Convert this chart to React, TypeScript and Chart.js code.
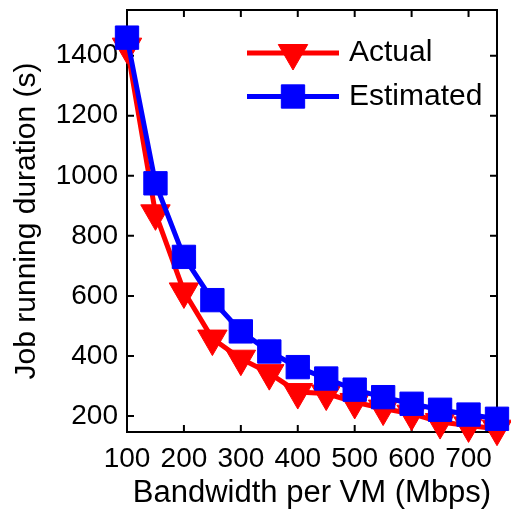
import React, { useEffect, useRef } from 'react';
import { Chart, registerables } from 'chart.js';
import { drawPoint } from 'chart.js/helpers';

Chart.register(...registerables);

const FONT = "'Liberation Sans', Arial, Helvetica, sans-serif";

const BANDWIDTH = [100, 150, 200, 250, 300, 350, 400, 450, 500, 550, 600, 650, 700, 750];
const ACTUAL = [1430, 875, 615, 458, 391, 343, 280, 275, 247, 225, 208, 180, 169, 158];
const ESTIMATED = [1460, 975, 730, 586, 482, 415, 363, 325, 288, 263, 241, 221, 205, 191];
const X_TICKS = [100, 200, 300, 400, 500, 600, 700];
const Y_TICKS = [200, 400, 600, 800, 1000, 1200, 1400];

const framePlugin = {
  id: 'frameTicks',
  beforeDatasetsDraw(chart: any) {
    const { ctx, chartArea: a, scales } = chart;
    const L = 7;
    ctx.save();
    ctx.strokeStyle = '#000';
    ctx.lineWidth = 2;
    ctx.strokeRect(a.left, a.top, a.right - a.left, a.bottom - a.top);
    ctx.beginPath();
    scales.x.ticks.forEach((t: any) => {
      const px = scales.x.getPixelForValue(t.value);
      ctx.moveTo(px, a.bottom);
      ctx.lineTo(px, a.bottom - L);
      ctx.moveTo(px, a.top);
      ctx.lineTo(px, a.top + L);
    });
    scales.y.ticks.forEach((t: any) => {
      const py = scales.y.getPixelForValue(t.value);
      ctx.moveTo(a.left, py);
      ctx.lineTo(a.left + L, py);
      ctx.moveTo(a.right, py);
      ctx.lineTo(a.right - L, py);
    });
    ctx.stroke();
    ctx.restore();
  },
};

const legendPlugin = {
  id: 'innerLegend',
  afterDraw(chart: any) {
    const { ctx, chartArea: a } = chart;
    const x0 = a.left + 120;
    const len = 92;
    chart.data.datasets.forEach((ds: any, i: number) => {
      const y = a.top + 43 + i * 43.5;
      ctx.save();
      ctx.strokeStyle = ds.borderColor;
      ctx.lineWidth = ds.borderWidth;
      ctx.beginPath();
      ctx.moveTo(x0, y);
      ctx.lineTo(x0 + len, y);
      ctx.stroke();
      ctx.fillStyle = ds.pointBackgroundColor;
      ctx.strokeStyle = ds.pointBorderColor;
      ctx.lineWidth = ds.pointBorderWidth;
      drawPoint(
        ctx,
        { pointStyle: ds.pointStyle, rotation: ds.pointRotation, radius: ds.pointRadius, borderWidth: ds.pointBorderWidth },
        x0 + len / 2,
        y
      );
      ctx.fillStyle = '#000';
      ctx.font = `30px ${FONT}`;
      ctx.textBaseline = 'middle';
      ctx.textAlign = 'left';
      ctx.fillText(ds.label, x0 + len + 10, y);
      ctx.restore();
    });
  },
};

export default function App() {
  const ref = useRef<HTMLCanvasElement | null>(null);

  useEffect(() => {
    if (!ref.current) return;
    const chart = new Chart(ref.current, {
      type: 'line',
      data: {
        datasets: [
          {
            label: 'Actual',
            data: BANDWIDTH.map((x, i) => ({ x, y: ACTUAL[i] })),
            borderColor: '#ff0000',
            backgroundColor: '#ff0000',
            pointBackgroundColor: '#ff0000',
            pointBorderColor: '#ff0000',
            borderWidth: 5,
            pointStyle: 'triangle',
            pointRotation: 180,
            pointRadius: 17,
            pointBorderWidth: 1,
            tension: 0,
            clip: false,
            order: 2,
          } as any,
          {
            label: 'Estimated',
            data: BANDWIDTH.map((x, i) => ({ x, y: ESTIMATED[i] })),
            borderColor: '#0000ff',
            backgroundColor: '#0000ff',
            pointBackgroundColor: '#0000ff',
            pointBorderColor: '#0000ff',
            borderWidth: 5,
            pointStyle: 'rect',
            pointRotation: 0,
            pointRadius: 16.5,
            pointBorderWidth: 1,
            tension: 0,
            clip: false,
            order: 1,
          } as any,
        ],
      },
      options: {
        responsive: false,
        maintainAspectRatio: false,
        animation: false,
        devicePixelRatio: 1,
        layout: { autoPadding: false, padding: { left: 0, right: 14, top: 10, bottom: 0 } },
        plugins: {
          legend: { display: false },
          tooltip: { enabled: false },
        },
        scales: {
          x: {
            type: 'linear',
            min: 100,
            max: 750,
            afterBuildTicks: (s: any) => {
              s.ticks = X_TICKS.map((v) => ({ value: v }));
            },
            afterFit: (s: any) => {
              s.height = 83;
              s.paddingLeft = 0;
              s.paddingRight = 0;
            },
            grid: { display: false, drawTicks: false },
            border: { display: false },
            ticks: {
              padding: 10,
              color: '#000',
              autoSkip: false,
              maxRotation: 0,
              font: { family: FONT, size: 28 },
              callback: (v: any) => String(v),
            },
            title: {
              display: true,
              text: 'Bandwidth per VM (Mbps)',
              color: '#000',
              font: { family: FONT, size: 31 },
              padding: { top: 0, bottom: 3 },
            },
          },
          y: {
            type: 'linear',
            min: 147,
            max: 1552,
            afterBuildTicks: (s: any) => {
              s.ticks = Y_TICKS.map((v) => ({ value: v }));
            },
            afterFit: (s: any) => {
              s.width = 127;
              s.paddingTop = 0;
              s.paddingBottom = 0;
            },
            grid: { display: false, drawTicks: false },
            border: { display: false },
            ticks: {
              padding: 9,
              color: '#000',
              autoSkip: false,
              font: { family: FONT, size: 28 },
              callback: (v: any) => String(v),
            },
            title: {
              display: true,
              text: 'Job running duration (s)',
              color: '#000',
              font: { family: FONT, size: 30 },
              padding: { top: 9, bottom: 0 },
            },
          },
        },
      },
      plugins: [framePlugin, legendPlugin],
    } as any);
    return () => chart.destroy();
  }, []);

  return (
    <div style={{ position: 'absolute', left: 0, top: 0, width: 511, height: 515, background: '#fff' }}>
      <canvas ref={ref} width={511} height={515} style={{ display: 'block' }} />
    </div>
  );
}
